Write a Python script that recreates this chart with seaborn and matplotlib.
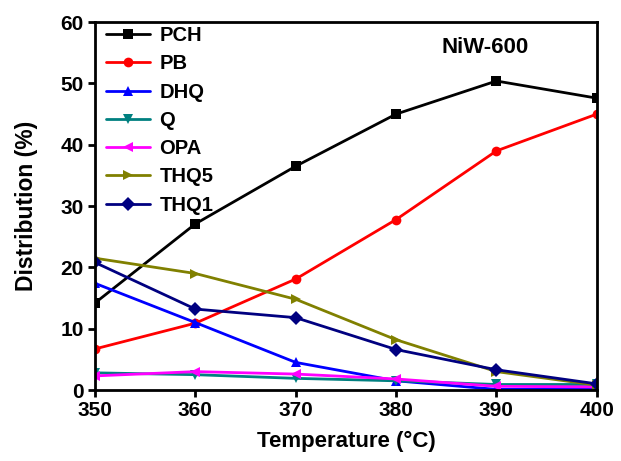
import matplotlib
matplotlib.use("Agg")
import matplotlib.pyplot as plt
import seaborn as sns
import pandas as pd

temps = [350, 360, 370, 380, 390, 400]
series_names = ["PCH", "PB", "DHQ", "Q", "OPA", "THQ5", "THQ1"]
pch = [14.2, 27.1, 36.5, 45.0, 50.4, 47.6]
pb = [6.7, 10.9, 18.1, 27.8, 39.0, 45.0]
dhq = [17.4, 11.0, 4.5, 1.5, 0.1, 0.1]
q = [2.8, 2.5, 1.9, 1.5, 0.9, 0.9]
opa = [2.3, 3.0, 2.6, 1.8, 0.6, 0.5]
thq5 = [21.5, 19.0, 14.8, 8.2, 3.0, 0.8]
thq1 = [20.8, 13.2, 11.8, 6.6, 3.3, 1.0]
colors = ["#000000", "#ff0000", "#0000ff", "#008080", "#ff00ff", "#808000", "#000080"]
marker_list = ["s", "o", "^", "v", "<", ">", "D"]

values = [pch, pb, dhq, q, opa, thq5, thq1]
rows = []
for name, vals in zip(series_names, values):
    for t, v in zip(temps, vals):
        rows.append({"Temperature": t, "Distribution": v, "Product": name})
df = pd.DataFrame(rows)

sns.set_style("ticks")
plt.rcParams["font.family"] = ["Liberation Sans", "DejaVu Sans"]
plt.rcParams["font.weight"] = "bold"
plt.rcParams["text.color"] = "black"
plt.rcParams["axes.labelcolor"] = "black"
plt.rcParams["xtick.color"] = "black"
plt.rcParams["ytick.color"] = "black"
plt.rcParams["axes.edgecolor"] = "black"

fig = plt.figure(figsize=(6.21, 4.61), dpi=100)
ax = fig.add_axes([0.153, 0.154, 0.808, 0.798])

sns.lineplot(data=df, x="Temperature", y="Distribution", hue="Product",
             style="Product", hue_order=series_names, style_order=series_names,
             palette=dict(zip(series_names, colors)),
             markers=dict(zip(series_names, marker_list)), dashes=False,
             markersize=7, linewidth=2, markeredgewidth=0, ax=ax)

ax.set_xlim(350, 400)
ax.set_ylim(0, 60)
ax.set_xticks(temps)
ax.set_yticks([0, 10, 20, 30, 40, 50, 60])
ax.tick_params(axis="both", labelsize=15, width=2, length=5, direction="out", pad=3)
for lab in ax.get_xticklabels() + ax.get_yticklabels():
    lab.set_fontweight("bold")
for s in ax.spines.values():
    s.set_linewidth(2)
ax.set_xlabel("Temperature (\u00b0C)", fontsize=16, fontweight="bold")
ax.set_ylabel("Distribution (%)", fontsize=16.5, fontweight="bold")
ax.xaxis.labelpad = 8
ax.yaxis.labelpad = 16

leg = ax.legend(loc="upper left", bbox_to_anchor=(0.012, 1.003), frameon=False,
                fontsize=14.5, handlelength=2.2, labelspacing=0.46,
                borderaxespad=0.0, handletextpad=0.45, borderpad=0.25)
for t in leg.get_texts():
    t.set_fontweight("bold")

ax.text(0.69, 0.93, "NiW-600", transform=ax.transAxes, fontsize=16,
        fontweight="bold", ha="left", va="center")

fig.savefig("out.png", dpi=100)
